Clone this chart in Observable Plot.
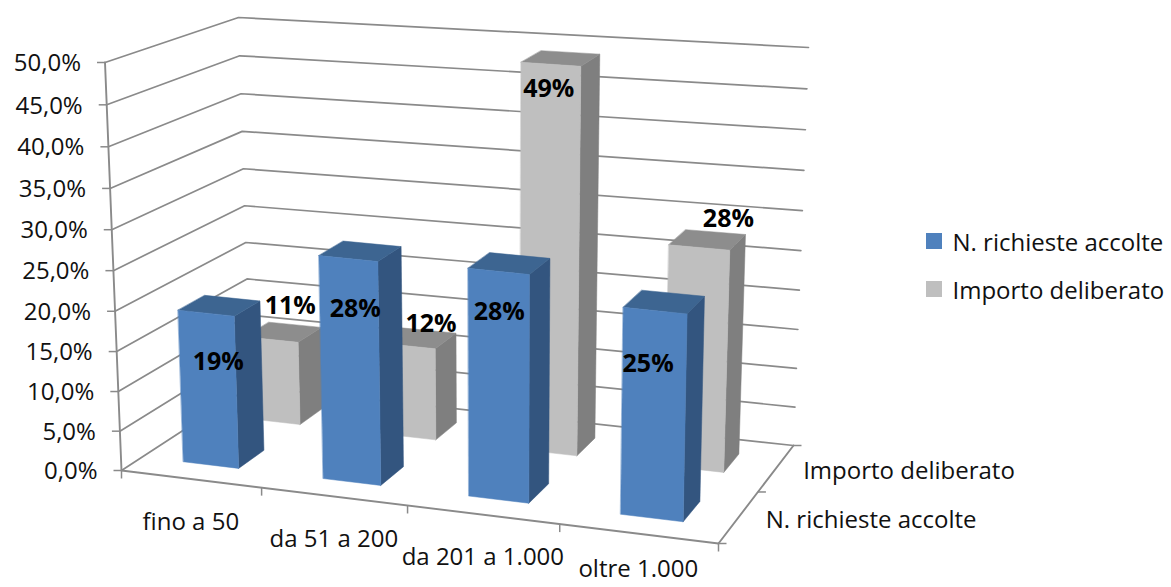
<!DOCTYPE html>
<html>
<head>
<meta charset="utf-8">
<script src="https://cdn.jsdelivr.net/npm/d3@7"></script>
<script src="https://cdn.jsdelivr.net/npm/@observablehq/plot@0.6"></script>
<style>html,body{margin:0;padding:0;background:#fff}</style>
</head>
<body>
<div id="chart"></div>
<script>
const categories = ["fino a 50", "da 51 a 200", "da 201 a 1.000", "oltre 1.000"];
const seriesNames = ["N. richieste accolte", "Importo deliberato"];
const richieste = [19.3, 27.9, 28.2, 25.4];
const importo = [11, 12, 49, 28];
const valueTicks = [0, 5, 10, 15, 20, 25, 30, 35, 40, 45, 50];

// Perspective camera of the 3-D frame (rational trilinear map): a, b front, c, d back
const W = 1171, H = 587;
const cam = {
  base: {a: [121, 470], b: [718, 543], c: [793, 445], d: [250, 386]},
  top: {a: [104.5, 62], b: [727, 120], c: [808, 47], d: [238, 17]},
  depth: {a: 1, b: 0.92, c: 1.02, d: 1.1},
  topDepth: 0.96
};
function project(cat, ser, val) {
  const u = cat / categories.length, v = ser / seriesNames.length, t = val / 50;
  const k = {a: (1 - u) * (1 - v), b: u * (1 - v), c: u * v, d: (1 - u) * v};
  let X = 0, Y = 0, Z = 0;
  for (const n of "abcd") {
    const wb = k[n] * cam.depth[n] * (1 - t), wt = k[n] * cam.depth[n] * cam.topDepth * t;
    X += wb * cam.base[n][0] + wt * cam.top[n][0];
    Y += wb * cam.base[n][1] + wt * cam.top[n][1];
    Z += wb + wt;
  }
  return [X / Z, Y / Z];
}

const nC = categories.length, nS = seriesNames.length;
const palette = [
  {front: "#4f81bd", side: "#33557f", top: "#3d6591"},
  {front: "#bfbfbf", side: "#7f7f7f", top: "#8d8d8d"}
];
const seriesValues = [richieste, importo];

// Bar faces, back row first so the front row covers it
const faces = [];
for (let s = nS - 1; s >= 0; --s) {
  seriesValues[s].forEach((val, c) => {
    const c0 = c + 0.3, c1 = c + 0.7, s0 = s + 0.3, s1 = s + 0.7;
    const quads = {
      top: [[c0, s0, val], [c1, s0, val], [c1, s1, val], [c0, s1, val]],
      side: [[c1, s0, 0], [c1, s1, 0], [c1, s1, val], [c1, s0, val]],
      front: [[c0, s0, 0], [c1, s0, 0], [c1, s0, val], [c0, s0, val]]
    };
    for (const face of ["side", "top", "front"]) {
      for (const q of quads[face]) {
        const [x, y] = project(...q);
        faces.push({x, y, id: `${s}-${c}-${face}`, color: palette[s][face]});
      }
    }
  });
}

// Walls: gridlines on the left wall and on the back wall
const grid = valueTicks.flatMap(val => [[0, 0, val], [0, nS, val], [nC, nS, val]]
  .map(q => { const [x, y] = project(...q); return {x, y, val}; }));
const frame = [
  {id: "axis", pts: [[0, 0, 0], [0, 0, 50]]},
  {id: "front", pts: [[0, 0, 0], [nC, 0, 0]]},
  {id: "right", pts: [[nC, 0, 0], [nC, nS, 0]]}
].flatMap(l => l.pts.map(q => { const [x, y] = project(...q); return {x, y, id: l.id}; }));

const valueTickRows = valueTicks.map(val => {
  const [x, y] = project(0, 0, val);
  return {x, y, label: val.toFixed(1).replace(".", ",") + "%"};
});
const catTickRows = d3.range(nC + 1).map(c => { const [x, y] = project(c, 0, 0); return {x, y}; });
const depthTickRows = d3.range(nS + 1).map(s => { const [x, y] = project(nC, s, 0); return {x, y}; });
// Category labels hang below the floor, held just inside the bottom edge of the picture
const catLabelRows = categories.map((label, c) => {
  const [x, y] = project(c + 0.5, 0, 0);
  return {x, y: Math.min(y + 43, H - 18), label};
});
const depthLabelRows = seriesNames.map((label, s) => { const [x, y] = project(nC, s + 0.5, 0); return {x, y, label}; });

// Hand-placed data labels: offset in pixels from each bar's top centre
const labelNudge = [
  [[-1, 56], [-5, 58], [-10, 49], [-16, 62]],
  [[7, -26], [13, -14], [-12, 31], [21, -21]]
];
const dataLabels = seriesValues.flatMap((vals, s) => vals.map((val, c) => {
  const [x, y] = project(c + 0.5, s + 0.5, val);
  return {x: x + labelNudge[s][c][0], y: y + labelNudge[s][c][1], label: Math.round(val) + "%"};
}));

const legendRows = seriesNames.map((label, s) => ({label, color: palette[s].front, row: s}));

const textFont = "'Open Sans', sans-serif";
const gridColor = "#8a8a8a";

const chart = Plot.plot({
  width: W, height: H, margin: 0,
  x: {domain: [0, W], range: [0, W], axis: null},
  y: {domain: [0, H], range: [0, H], axis: null},
  style: {background: "#fff"},
  marks: [
    Plot.line(grid, {x: "x", y: "y", z: "val", stroke: gridColor, strokeWidth: 1.7}),
    Plot.line(frame, {x: "x", y: "y", z: "id", stroke: gridColor, strokeWidth: 1.9}),
    Plot.link(valueTickRows, {x1: "x", y1: "y", x2: d => d.x - 8, y2: "y", stroke: gridColor, strokeWidth: 1.5}),
    Plot.link(catTickRows, {x1: "x", y1: "y", x2: "x", y2: d => d.y + 8, stroke: gridColor, strokeWidth: 1.5}),
    Plot.link(depthTickRows, {x1: "x", y1: "y", x2: d => d.x + 8, y2: "y", stroke: gridColor, strokeWidth: 1.5}),
    Plot.line(faces, {x: "x", y: "y", z: "id", fill: "color", stroke: "color", strokeWidth: 0.5, curve: "linear-closed"}),
    Plot.text(valueTickRows, {x: "x", y: "y", text: "label", textAnchor: "end", dx: -24, dy: 1, fontSize: 24, fontFamily: textFont, fill: "#111"}),
    Plot.text(catLabelRows, {x: "x", y: "y", text: "label", fontSize: 24, fontFamily: textFont, fill: "#111"}),
    Plot.text(depthLabelRows, {x: "x", y: "y", text: "label", textAnchor: "start", dx: 27, dy: 3, fontSize: 24, fontFamily: textFont, fill: "#111"}),
    Plot.text(dataLabels, {x: "x", y: "y", text: "label", fontSize: 25, fontWeight: "bold", fontFamily: textFont, fill: "#000"}),
    Plot.rect(legendRows, {x1: () => 926, x2: () => 942, y1: d => 233 + d.row * 48, y2: d => 249 + d.row * 48, fill: "color"}),
    Plot.text(legendRows, {x: () => 952, y: d => 243 + d.row * 48, text: "label", textAnchor: "start", fontSize: 24, fontFamily: textFont, fill: "#111"})
  ]
});
document.getElementById("chart").append(chart);
</script>
</body>
</html>
